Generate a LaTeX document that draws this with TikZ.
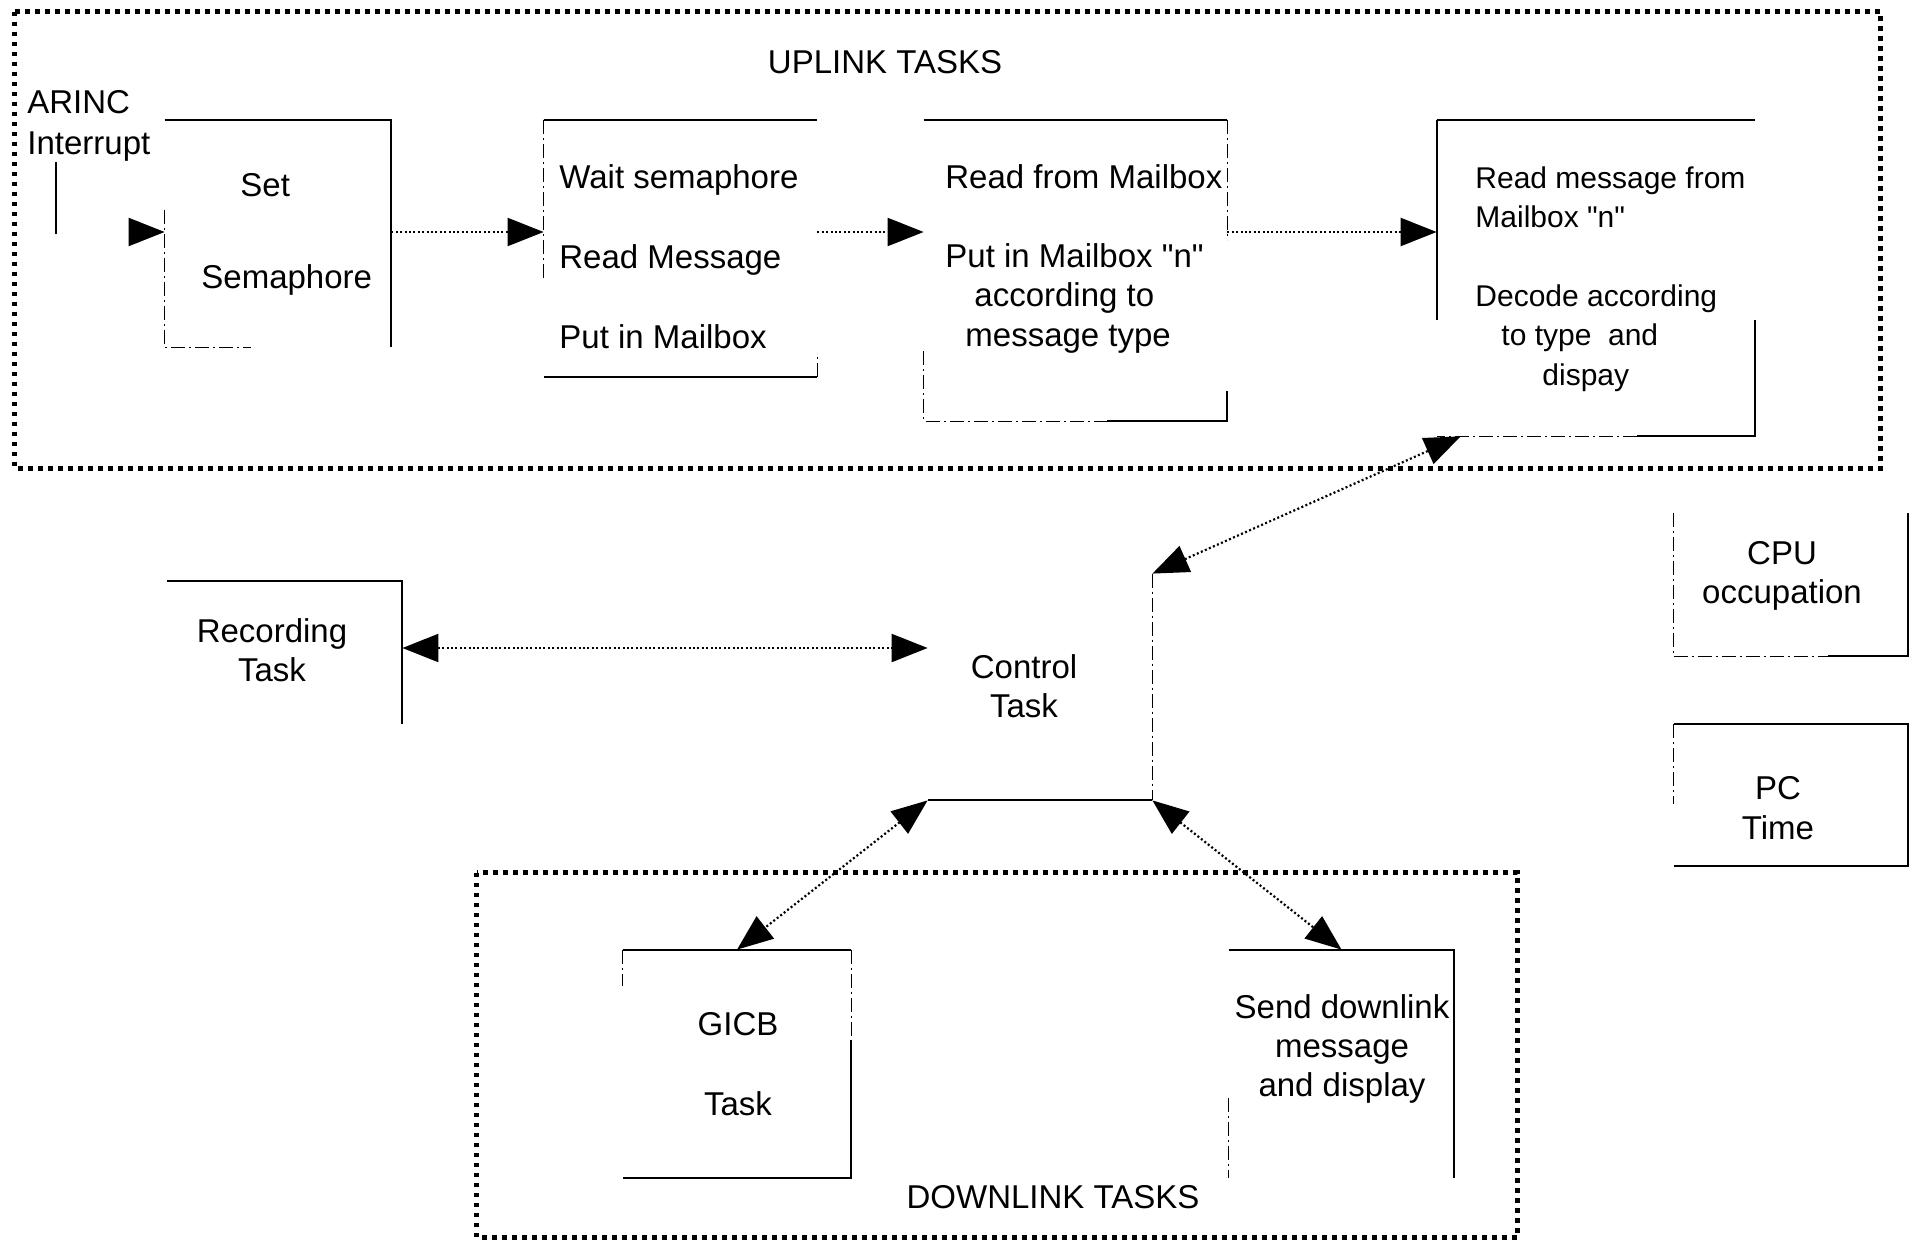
\documentclass[tikz,border=0pt]{standalone}
\usepackage{fontspec}
\setmainfont{Liberation Sans}[Ligatures=TeXOff]
\usetikzlibrary{arrows.meta}
\begin{document}
\begin{tikzpicture}[x=0.5pt,y=-0.5pt,
  txt/.style={font=\fontsize{16.5pt}{19.7pt}\selectfont, inner sep=0pt},
  smalltxt/.style={font=\fontsize{15pt}{19.7pt}\selectfont, inner sep=0pt},
  frame/.style={line width=2.4pt, dash pattern=on 2.4pt off 2.6pt},
  solidedge/.style={line width=1pt},
  faintedge/.style={line width=0.6pt, dash pattern=on 7pt off 2pt on 1pt off 2pt},
  flow/.style={line width=1.1pt, dash pattern=on 1pt off 1.2pt, -{Triangle[length=18pt,width=14pt]}},
  link/.style={line width=1.1pt, dash pattern=on 1pt off 1.2pt, {Triangle[length=18pt,width=14pt]}-{Triangle[length=18pt,width=14pt]}},
  area/.style={inner sep=0pt}
]
\useasboundingbox (0,0) rectangle (1914,1241);

% group frames
\node[area, minimum width=932.5pt, minimum height=228pt] (upframe) at (947.5,240) {};
\draw[frame] (upframe.north west) rectangle (upframe.south east);
\node[area, minimum width=520pt, minimum height=182pt] (downframe) at (997,1055) {};
\draw[frame] (downframe.north west) rectangle (downframe.south east);

\node[txt] (uplabel) at (885,62) {UPLINK TASKS};
\node[txt] (downlabel) at (1053,1197) {DOWNLINK TASKS};

% box areas
\node[area, minimum width=113pt, minimum height=113.5pt] (set) at (278,233.5) {};
\node[area, minimum width=136.5pt, minimum height=128.5pt] (wait) at (680.5,248.5) {};
\node[area, minimum width=151.5pt, minimum height=150.5pt] (readmb) at (1075.5,270.5) {};
\node[area, minimum width=159pt, minimum height=158pt] (readmsg) at (1596,278) {};
\node[area, minimum width=117.5pt, minimum height=71.5pt] (rec) at (284.5,652.5) {};
\node[area, minimum width=112pt, minimum height=113pt] (ctrl) at (1040,687) {};
\node[area, minimum width=117pt, minimum height=71.5pt] (cpu) at (1791,584.5) {};
\node[area, minimum width=117pt, minimum height=71pt] (pc) at (1791,795) {};
\node[area, minimum width=114pt, minimum height=114pt] (gicb) at (737,1064) {};
\node[area, minimum width=112.5pt, minimum height=114pt] (send) at (1341.5,1064) {};

% box edges
\draw[solidedge] (set.north west) -- (set.north east) -- (set.south east);
\draw[faintedge] ([yshift=-45pt]set.north west) -- (set.south west) -- ([xshift=-70pt]set.south east);

\draw[solidedge] (wait.north west) -- (wait.north east);
\draw[solidedge] (wait.south west) -- (wait.south east);
\draw[faintedge] (wait.north west) -- ([yshift=-80pt]wait.north west);
\draw[faintedge] (wait.south east) -- ([yshift=12pt]wait.south east);

\draw[solidedge] (readmb.north west) -- (readmb.north east);
\draw[solidedge] ([xshift=-60pt]readmb.south east) -- (readmb.south east) -- ([yshift=15pt]readmb.south east);
\draw[faintedge] (readmb.north east) -- ([yshift=-60pt]readmb.north east);
\draw[faintedge] ([yshift=35pt]readmb.south west) -- (readmb.south west) -- ([xshift=-60pt]readmb.south east);

\draw[solidedge] (readmsg.north west) -- (readmsg.north east);
\draw[solidedge] (readmsg.north west) -- ([yshift=-100pt]readmsg.north west);
\draw[solidedge] ([yshift=-100pt]readmsg.north east) -- (readmsg.south east) -- ([xshift=100pt]readmsg.south west);
\draw[faintedge] ([xshift=100pt]readmsg.south west) -- (readmsg.south west);

\draw[solidedge] (rec.north west) -- (rec.north east) -- (rec.south east);

\draw[faintedge] (ctrl.north east) -- (ctrl.south east);
\draw[solidedge] (ctrl.south west) -- (ctrl.south east);

\draw[faintedge] (cpu.north west) -- (cpu.south west) -- ([xshift=-40pt]cpu.south east);
\draw[solidedge] ([xshift=-40pt]cpu.south east) -- (cpu.south east) -- (cpu.north east);

\draw[faintedge] (pc.north west) -- ([yshift=-40pt]pc.north west);
\draw[solidedge] (pc.north west) -- (pc.north east) -- (pc.south east) -- (pc.south west);

\draw[solidedge] (gicb.north west) -- (gicb.north east);
\draw[faintedge] (gicb.north east) -- ([yshift=-45pt]gicb.north east);
\draw[solidedge] ([yshift=-45pt]gicb.north east) -- (gicb.south east) -- (gicb.south west);
\draw[faintedge] (gicb.north west) -- ([yshift=-18pt]gicb.north west);

\draw[solidedge] (send.north west) -- (send.north east) -- (send.south east);
\draw[faintedge] ([yshift=40pt]send.south west) -- (send.south west);

% texts
\node[txt, align=left, anchor=west] (arinc) at (27,126) {ARINC\\[0.8pt]Interrupt};
\node[txt, align=left, anchor=west] (settxt) at (201,234) {\hspace*{19.5pt}Set\\[26.3pt]Semaphore};
\node[txt, align=left, anchor=west] (waittxt) at (559,257) {Wait semaphore\\[20.3pt]Read Message\\[20.3pt]Put in Mailbox};
\node[txt, align=left, anchor=west] (readmbtxt) at (945,259) {Read from Mailbox\\[19.7pt]Put in Mailbox "n"\\\hspace*{14.5pt}according to\\\hspace*{10pt}message type};
\node[smalltxt, align=left, anchor=west] (readmsgtxt) at (1475,279) {Read message from\\Mailbox "n"\\[19.7pt]Decode according\\\hspace*{13pt}to type \ and\\\hspace*{33.5pt}dispay};
\node[txt, align=center] (rectxt) at (272,650) {Recording\\Task};
\node[txt, align=center] (ctrltxt) at (1024,686) {Control\\Task};
\node[txt, align=center] (cputxt) at (1782,576) {CPU\\occupation};
\node[txt, align=center] (pctxt) at (1778,808) {PC\\Time};
\node[txt, align=center] (gicbtxt) at (738,1064) {GICB\\[20.3pt]Task};
\node[txt, align=center] (sendtxt) at (1342,1049) {Send downlink\\message\\and display};

% connectors
\coordinate (row) at (0,232);
\coordinate (arincTop) at (56,162);
\coordinate (arincBot) at (56,234);
\draw[solidedge] (arincTop) -- (arincBot);
\coordinate (arincTipStart) at (129,232);
\draw[flow] (arincTipStart) -- (set.west |- row);
\draw[flow] (set.east |- row) -- (wait.west |- row);
\draw[flow] (wait.east |- row) -- (readmb.west |- row);
\draw[flow] (readmb.east |- row) -- (readmsg.west |- row);

\coordinate (recrow) at (0,648);
\draw[link] (rec.east |- recrow) -- (ctrl.west |- recrow);
\draw[link] (ctrl.north east) -- ([xshift=12pt]readmsg.south west);
\draw[link] (ctrl.south west) -- (gicb.north);
\draw[link] (ctrl.south east) -- (send.north);
\end{tikzpicture}
\end{document}
